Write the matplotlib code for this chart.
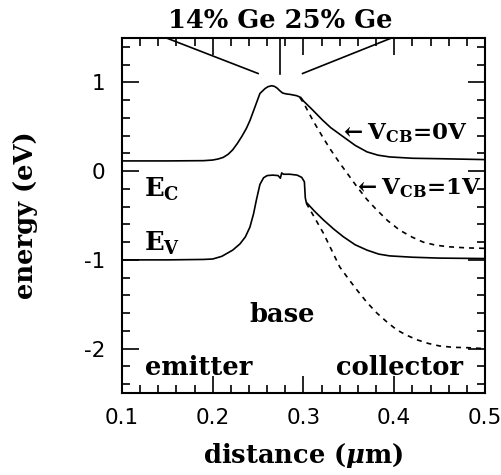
import matplotlib
matplotlib.use('Agg')
import matplotlib.pyplot as plt
from matplotlib.ticker import MultipleLocator

plt.rcParams['mathtext.fontset'] = 'custom'
plt.rcParams['mathtext.rm'] = 'DejaVu Serif:bold'
plt.rcParams['mathtext.it'] = 'DejaVu Serif:bold:italic'
plt.rcParams['mathtext.bf'] = 'DejaVu Serif:bold'

# conduction band, V_CB = 0 V
ec0_x = [0.10, 0.15, 0.19, 0.20, 0.206, 0.2116, 0.217, 0.222, 0.227, 0.232, 0.237, 0.241,
         0.2466, 0.252, 0.2576, 0.261, 0.265, 0.268, 0.271, 0.274, 0.277, 0.281, 0.285,
         0.2925, 0.297, 0.300, 0.305, 0.310, 0.321, 0.330, 0.344, 0.357, 0.370, 0.382,
         0.395, 0.420, 0.450, 0.500]
ec0_e = [0.115, 0.115, 0.118, 0.125, 0.137, 0.155, 0.19, 0.24, 0.31, 0.39, 0.48, 0.57,
         0.725, 0.875, 0.93, 0.952, 0.962, 0.955, 0.935, 0.905, 0.88, 0.87, 0.865,
         0.85, 0.83, 0.79, 0.74, 0.69, 0.575, 0.49, 0.386, 0.29, 0.217, 0.18,
         0.16, 0.145, 0.14, 0.13]

# conduction band, V_CB = 1 V
ec1_x = [0.296, 0.300, 0.311, 0.322, 0.330, 0.340, 0.350, 0.359, 0.370, 0.381, 0.393,
         0.406, 0.420, 0.432, 0.446, 0.461, 0.480, 0.500]
ec1_e = [0.83, 0.77, 0.56, 0.37, 0.24, 0.09, -0.05, -0.177, -0.32, -0.44, -0.56,
         -0.665, -0.745, -0.80, -0.835, -0.853, -0.865, -0.87]

# valence band, V_CB = 0 V
ev0_x = [0.10, 0.15, 0.19, 0.20, 0.21, 0.222, 0.230, 0.236, 0.241, 0.245, 0.248, 0.252,
         0.256, 0.260, 0.266, 0.272, 0.2745, 0.276, 0.278, 0.285, 0.293, 0.298, 0.301,
         0.302, 0.303, 0.312, 0.322, 0.333, 0.344, 0.357, 0.370, 0.383, 0.395, 0.420,
         0.450, 0.500]
ev0_e = [-1.0, -1.0, -0.995, -0.99, -0.96, -0.89, -0.82, -0.74, -0.63, -0.48, -0.33, -0.15,
         -0.075, -0.05, -0.045, -0.05, -0.08, -0.02, -0.035, -0.035, -0.045, -0.07, -0.12,
         -0.30, -0.35, -0.45, -0.55, -0.65, -0.74, -0.83, -0.89, -0.935, -0.955, -0.97,
         -0.98, -0.985]

# valence band, V_CB = 1 V
ev1_x = [0.303, 0.312, 0.322, 0.331, 0.340, 0.350, 0.359, 0.370, 0.381, 0.392, 0.403,
         0.414, 0.425, 0.437, 0.450, 0.465, 0.483, 0.500]
ev1_e = [-0.36, -0.52, -0.70, -0.89, -1.08, -1.22, -1.34, -1.48, -1.60, -1.70, -1.79,
         -1.85, -1.90, -1.94, -1.97, -1.985, -1.99, -2.0]

# Ge profile marks at the top
ge_left_x = [0.149, 0.250]
ge_left_e = [1.5, 1.10]
ge_mid_x = [0.274, 0.274]
ge_mid_e = [1.5, 1.10]
ge_right_x = [0.299, 0.397]
ge_right_e = [1.10, 1.5]

fig = plt.figure(figsize=(5.01, 4.75), dpi=100)
ax = fig.add_axes([0.2435, 0.1726, 0.7245, 0.7474])

lw = 1.2
ax.plot(ec0_x, ec0_e, color='black', lw=lw)
ax.plot(ec1_x, ec1_e, color='black', lw=lw, linestyle=(0, (3, 3)))
ax.plot(ev0_x, ev0_e, color='black', lw=lw)
ax.plot(ev1_x, ev1_e, color='black', lw=lw, linestyle=(0, (3, 3)))
for xs, es in [(ge_left_x, ge_left_e), (ge_mid_x, ge_mid_e), (ge_right_x, ge_right_e)]:
    ax.plot(xs, es, color='black', lw=lw)

ax.set_xlim(0.1, 0.5)
ax.set_ylim(-2.5, 1.5)
ax.xaxis.set_major_locator(MultipleLocator(0.1))
ax.xaxis.set_minor_locator(MultipleLocator(0.02))
ax.yaxis.set_major_locator(MultipleLocator(1))
ax.yaxis.set_minor_locator(MultipleLocator(0.2))
ax.tick_params(which='both', direction='in', top=True, right=True, width=1.2)
ax.tick_params(which='major', length=12)
ax.tick_params(which='minor', length=6)
ax.tick_params(axis='x', pad=11, labelsize=15.5)
ax.tick_params(axis='y', pad=12, labelsize=15.5)
ax.set_xticks([0.1, 0.2, 0.3, 0.4, 0.5])
ax.set_xticklabels(['0.1', '0.2', '0.3', '0.4', '0.5'])
ax.set_yticks([1, 0, -1, -2])
ax.set_yticklabels(['1', '0', '-1', '-2'])
for s in ax.spines.values():
    s.set_linewidth(1.5)

serif = dict(family='DejaVu Serif', fontweight='bold', color='black')
ax.set_xlabel(r'distance ($\mu$m)', fontsize=18.5, labelpad=9, **serif)
ax.set_ylabel('energy (eV)', fontsize=18.5, labelpad=33, **serif)
ax.text(0.274, 1.05, '14% Ge 25% Ge', fontsize=18.5, ha='center', va='center',
        transform=ax.get_xaxis_transform(), **serif)

fs = 18.5
ax.text(0.124, -0.21, r'E$_\mathrm{C}$', fontsize=fs, va='center', **serif)
ax.text(0.124, -0.81, r'E$_\mathrm{V}$', fontsize=fs, va='center', **serif)
ax.text(0.339, 0.43, r'$\leftarrow$V$_\mathrm{CB}$=0V', fontsize=16.5, va='center', **serif)
ax.text(0.355, -0.19, r'$\leftarrow$V$_\mathrm{CB}$=1V', fontsize=16.5, va='center', **serif)
ax.text(0.277, -1.61, 'base', fontsize=fs, ha='center', va='center', **serif)
ax.text(0.184, -2.21, 'emitter', fontsize=fs, ha='center', va='center', **serif)
ax.text(0.406, -2.21, 'collector', fontsize=fs, ha='center', va='center', **serif)

fig.savefig('out.png', dpi=100)
